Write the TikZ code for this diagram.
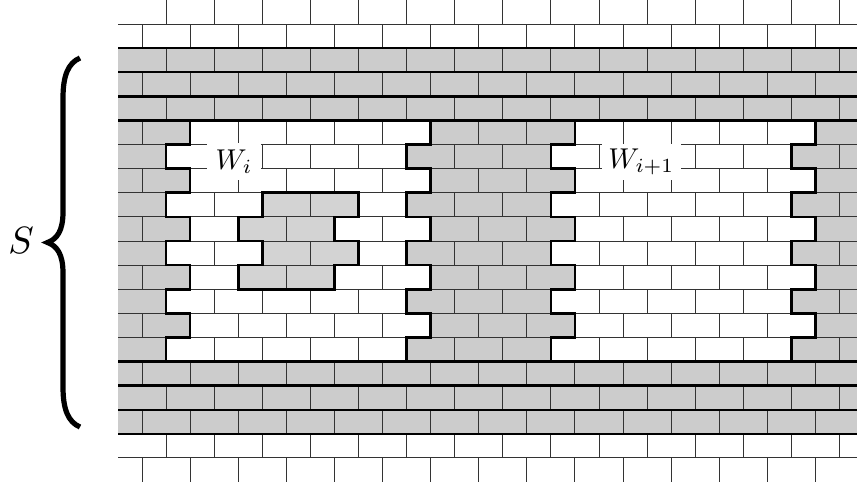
\documentclass[tikz,border=0pt]{standalone}
\usepackage{tikz}
\definecolor{brickgray}{HTML}{CCCCCC}
\definecolor{innergray}{HTML}{D3D3D3}
\tikzset{
  thinline/.style={line width=0.75pt, draw=black!80},
  thickline/.style={line width=1.7pt, draw=black},
  bound/.style={line width=2pt, draw=black, line join=miter},
  lbl/.style={fill=white, inner sep=0pt},
}
\begin{document}
\begin{tikzpicture}[x=0.75pt, y=-0.75pt]
\useasboundingbox (0,0) rectangle (857,482);
% brace
\draw[line width=3.9pt, line cap=butt] (80,58) .. controls (68,63) and (63,76) .. (63,98) -- (63,212) .. controls (63,231) and (57,239) .. (47.5,242.5) .. controls (57,246) and (63,254) .. (63,273) -- (63,387) .. controls (63,409) and (68,422) .. (80,427);
\node (S) at (21,241) {\scalebox{2.85}{$S$}};
\begin{scope}
\clip (118,0) rectangle (857,482);
\begin{scope}[shift={(118,0)}, x=18.0375pt, y=-18.075pt]
% gray band
\fill[brickgray] (0,2) rectangle (32,18);
% windows (white)
\fill[white] (3,5) -- (13,5) -- (13,6) -- (12,6) -- (12,7) -- (13,7) -- (13,8) -- (12,8) -- (12,9) -- (13,9) -- (13,10) -- (12,10) -- (12,11) -- (13,11) -- (13,12) -- (12,12) -- (12,13) -- (13,13) -- (13,14) -- (12,14) -- (12,15) -- (2,15) -- (2,14) -- (3,14) -- (3,13) -- (2,13) -- (2,12) -- (3,12) -- (3,11) -- (2,11) -- (2,10) -- (3,10) -- (3,9) -- (2,9) -- (2,8) -- (3,8) -- (3,7) -- (2,7) -- (2,6) -- (3,6) -- cycle;
\fill[white] (19,5) -- (29,5) -- (29,6) -- (28,6) -- (28,7) -- (29,7) -- (29,8) -- (28,8) -- (28,9) -- (29,9) -- (29,10) -- (28,10) -- (28,11) -- (29,11) -- (29,12) -- (28,12) -- (28,13) -- (29,13) -- (29,14) -- (28,14) -- (28,15) -- (18,15) -- (18,14) -- (19,14) -- (19,13) -- (18,13) -- (18,12) -- (19,12) -- (19,11) -- (18,11) -- (18,10) -- (19,10) -- (19,9) -- (18,9) -- (18,8) -- (19,8) -- (19,7) -- (18,7) -- (18,6) -- (19,6) -- cycle;
% inner gray
\fill[innergray] (6,8) -- (10,8) -- (10,9) -- (9,9) -- (9,10) -- (10,10) -- (10,11) -- (9,11) -- (9,12) -- (5,12) -- (5,11) -- (6,11) -- (6,10) -- (5,10) -- (5,9) -- (6,9) -- cycle;
% vertical joints
\foreach \r in {0,2,...,18} {\foreach \k in {2,4,...,30} {\draw[thinline] (\k,\r) -- (\k,\r+1);}}
\foreach \r in {1,3,...,19} {\foreach \k in {1,3,...,31} {\draw[thinline] (\k,\r) -- (\k,\r+1);}}
% horizontal joints
\foreach \j in {1,...,19} {\draw[thinline] (0,\j) -- (32,\j);}
\foreach \j in {2,3,4,5,15,16,17,18} {\draw[thickline] (0,\j) -- (32,\j);}
% boundaries
\draw[bound] (3,5) -- (13,5) -- (13,6) -- (12,6) -- (12,7) -- (13,7) -- (13,8) -- (12,8) -- (12,9) -- (13,9) -- (13,10) -- (12,10) -- (12,11) -- (13,11) -- (13,12) -- (12,12) -- (12,13) -- (13,13) -- (13,14) -- (12,14) -- (12,15) -- (2,15) -- (2,14) -- (3,14) -- (3,13) -- (2,13) -- (2,12) -- (3,12) -- (3,11) -- (2,11) -- (2,10) -- (3,10) -- (3,9) -- (2,9) -- (2,8) -- (3,8) -- (3,7) -- (2,7) -- (2,6) -- (3,6) -- cycle;
\draw[bound] (19,5) -- (29,5) -- (29,6) -- (28,6) -- (28,7) -- (29,7) -- (29,8) -- (28,8) -- (28,9) -- (29,9) -- (29,10) -- (28,10) -- (28,11) -- (29,11) -- (29,12) -- (28,12) -- (28,13) -- (29,13) -- (29,14) -- (28,14) -- (28,15) -- (18,15) -- (18,14) -- (19,14) -- (19,13) -- (18,13) -- (18,12) -- (19,12) -- (19,11) -- (18,11) -- (18,10) -- (19,10) -- (19,9) -- (18,9) -- (18,8) -- (19,8) -- (19,7) -- (18,7) -- (18,6) -- (19,6) -- cycle;
\draw[bound] (6,8) -- (10,8) -- (10,9) -- (9,9) -- (9,10) -- (10,10) -- (10,11) -- (9,11) -- (9,12) -- (5,12) -- (5,11) -- (6,11) -- (6,10) -- (5,10) -- (5,9) -- (6,9) -- cycle;
\end{scope}
\end{scope}
% labels
\node[lbl, minimum width=41pt, minimum height=27.5pt] (Wi) at (234,161.5) {\scalebox{2.15}{$W_i$}};
\node[lbl, minimum width=59.5pt, minimum height=26.8pt] (Wj) at (641.3,162) {\scalebox{2.15}{$W_{i+1}$}};
\end{tikzpicture}
\end{document}
